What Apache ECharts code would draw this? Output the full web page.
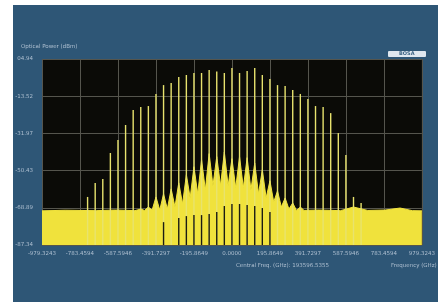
<!DOCTYPE html>
<html><head><meta charset="utf-8">
<script src="https://cdn.jsdelivr.net/npm/echarts@6/dist/echarts.min.js"></script>
<style>html,body{margin:0;padding:0;background:#fff;}#c{width:438px;height:302px;}</style>
</head><body><div id="c"></div>
<script>
// ---- data ----
const yTickLabels = ['-87.34','-68.89','-50.43','-31.97','-13.52','04.94'];
const xTickLabels = ['-979.3243','-783.4594','-587.5946','-391.7297','-195.8649','0.0000','195.8649','391.7297','587.5946','783.4594','979.3243'];
// comb line frequencies (GHz offset) and peak powers (dBm)
const combFreq = [-744.3,-705.1,-665.9,-626.8,-587.6,-548.4,-509.2,-470.1,-430.9,-391.7,-352.6,-313.4,-274.2,-235.0,-195.9,-156.7,-117.5,-78.3,-39.2,0.0,39.2,78.3,117.5,156.7,195.9,235.0,274.2,313.4,352.6,391.7,430.9,470.1,509.2,548.4,587.6,626.8,665.9];
const combPower = [-63.5,-56.6,-54.6,-41.7,-35.2,-27.8,-20.4,-18.9,-18.4,-12.4,-8.0,-7.0,-4.0,-3.0,-2.0,-2.0,-0.5,-1.2,-2.0,0.5,-2.0,-1.0,0.5,-3.0,-5.0,-8.0,-8.5,-10.4,-12.4,-14.9,-18.4,-18.9,-21.9,-31.8,-42.7,-63.5,-66.5];
// noise floor and line pedestals (trace envelope)
const envFreq = [-979.3,-860,-700,-600,-500,-470.1,-450.5,-430.9,-411.3,-391.7,-372.2,-352.6,-333.0,-313.4,-293.8,-274.2,-254.6,-235.0,-215.4,-195.9,-176.3,-156.7,-137.1,-117.5,-97.9,-78.3,-58.8,-39.2,-19.6,0.0,19.6,39.2,58.8,78.3,97.9,117.5,137.1,156.7,176.3,195.9,215.4,235.0,254.6,274.2,293.8,313.4,333.0,352.6,372.0,450,560,626.8,700,790,867,930,979.3];
const envPower = [-70.4,-70.1,-70.3,-70.0,-70.3,-69.5,-70.2,-68.5,-70.0,-63.5,-70.0,-62.0,-69.5,-59.5,-68.5,-56.5,-67.0,-52.5,-64.0,-48.5,-62.0,-45.0,-60.0,-42.0,-58.0,-43.5,-58.0,-41.2,-58.0,-44.5,-59.0,-43.5,-59.0,-44.0,-60.0,-46.7,-62.0,-50.0,-64.0,-55.5,-66.0,-60.5,-68.5,-64.0,-69.5,-66.5,-70.2,-68.5,-70.2,-70.0,-70.3,-68.5,-70.2,-70.0,-69.0,-70.3,-70.4];
// dark dips in the lower trace
const dipFreq = [-352.6,-274.2,-235.0,-195.9,-156.7,-117.5,-78.3,-39.2,0.0,39.2,78.3,117.5,156.7,195.9];
const dipPower = [-76.0,-74.0,-73.0,-72.5,-72.5,-72.0,-71.0,-68.0,-67.0,-67.0,-67.5,-68.0,-69.0,-71.0];

const Y_MIN = -87.34, Y_MAX = 4.94, X_MAX = 979.3243;
const X_INT = X_MAX / 5, Y_INT = (Y_MAX - Y_MIN) / 5;

const chart = echarts.init(document.getElementById('c'));
function vline(color, width) {
  return function (params, api) {
    const x = api.value(0), y = api.value(1);
    const p1 = api.coord([x, y]);
    const p0 = api.coord([x, Y_MIN]);
    return {type: 'line', shape: {x1: p0[0], y1: p0[1], x2: p1[0], y2: p1[1]},
      style: {stroke: color, lineWidth: width}};
  };
}
const txt = '#aebfd0';
chart.setOption({
  animation: false,
  backgroundColor: '#ffffff',
  graphic: [
    {type: 'rect', left: 13, top: 5, shape: {width: 425, height: 297}, style: {fill: '#2e5676'}, z: -10},
    {type: 'text', left: 21, top: 44, style: {text: 'Optical Power (dBm)', fill: txt, font: '5.5px "DejaVu Sans"'}},
    {type: 'rect', left: 388, top: 51, shape: {width: 38, height: 6, r: 1}, style: {fill: '#dfe7ef'}},
    {type: 'text', left: 399, top: 51, style: {text: 'BOSA', fill: '#3c6383', font: 'bold 5px "DejaVu Sans"'}},
    {type: 'text', left: 236, top: 263, style: {text: 'Central Freq. (GHz): 193596.5355', fill: txt, font: '5.5px "DejaVu Sans"'}},
    {type: 'text', left: 391, top: 263, style: {text: 'Frequency (GHz)', fill: txt, font: '5.5px "DejaVu Sans"'}}
  ],
  grid: {left: 42, top: 59, width: 383, height: 186, show: true, backgroundColor: '#0b0b07', borderWidth: 0},
  xAxis: {
    type: 'value', min: -X_MAX, max: X_MAX, interval: X_INT,
    axisLine: {show: false}, axisTick: {show: false},
    splitLine: {show: true, lineStyle: {color: '#55554d', width: 1}},
    axisLabel: {color: txt, fontSize: 5.5, fontFamily: 'DejaVu Sans', margin: 6,
      formatter: v => xTickLabels[Math.round((v + X_MAX) / X_INT)]}
  },
  yAxis: {
    type: 'value', min: Y_MIN, max: Y_MAX, interval: Y_INT,
    axisLine: {show: false}, axisTick: {show: false},
    splitLine: {show: true, lineStyle: {color: '#55554d', width: 1}},
    axisLabel: {color: txt, fontSize: 5.5, fontFamily: 'DejaVu Sans', margin: 9,
      formatter: v => yTickLabels[Math.round((v - Y_MIN) / Y_INT)]}
  },
  series: [
    {type: 'line', data: envFreq.map((f, i) => [f, envPower[i]]), symbol: 'none',
      lineStyle: {color: '#f0e23c', width: 1}, areaStyle: {color: '#f0e23c', opacity: 1, origin: 'start'}, z: 2},
    {type: 'custom', data: combFreq.map((f, i) => [f, combPower[i]]), renderItem: vline('#e8e36e', 1.4), z: 3},
    {type: 'custom', data: dipFreq.map((f, i) => [f, dipPower[i]]), renderItem: vline('#1c1c10', 1.4), z: 4}
  ]
});
</script></body></html>
